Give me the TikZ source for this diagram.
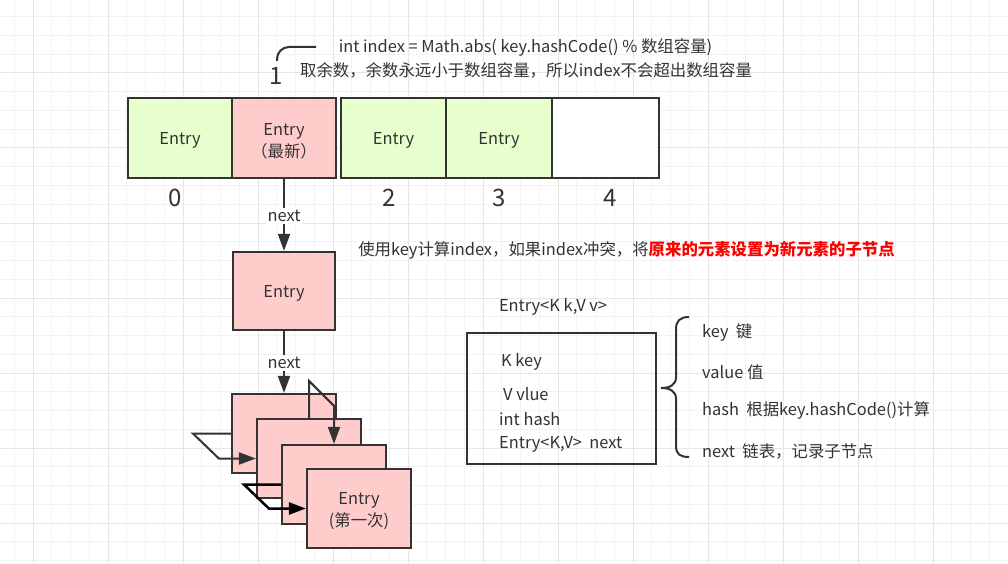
\documentclass[tikz,border=0pt]{standalone}
\usepackage{fontspec}
\setmainfont{Noto Sans CJK SC}
\usepackage{xcolor}
\usetikzlibrary{arrows.meta}

\definecolor{entrygreen}{HTML}{E6FFCC}
\definecolor{entrypink}{HTML}{FFCCCC}
\definecolor{linegray}{HTML}{333333}
\definecolor{txtgray}{HTML}{333333}
\definecolor{gridlight}{HTML}{F3F3F3}
\definecolor{griddark}{HTML}{E6E6E6}

\tikzset{
  cell/.style={draw=linegray, line width=2.2pt, minimum width=104pt, minimum height=80pt,
    inner sep=0pt, text=txtgray, align=center, text height=17pt, font=\fontsize{16.4}{22}\selectfont},
  twolines/.style={text height=40pt},
  entrybox/.style={cell, fill=entrypink},
  link/.style={draw=linegray, line width=2pt, -{Triangle[length=17pt,width=12pt]}},
  lbl/.style={text=txtgray, inner sep=0pt, font=\fontsize{16.4}{20}\selectfont},
  idx/.style={text=txtgray, inner sep=0pt, font=\fontsize{24}{28}\selectfont},
  gridminor/.style={draw=gridlight, line width=1pt},
  gridmajor/.style={draw=griddark, line width=1pt}
}

\begin{document}
\begin{tikzpicture}[x=1pt,y=-1pt]
\useasboundingbox[fill=white] (0,0) rectangle (1008,564);
\foreach \i in {0,...,53} \draw[gridminor] ({14.25+18.75*\i},0) -- ++(0,564);
\foreach \i in {0,...,30} \draw[gridminor] (0,{-2+18.75*\i}) -- ++(1008,0);
\foreach \i in {0,...,13} \draw[gridmajor] ({33+75*\i},0) -- ++(0,564);
\foreach \i in {0,...,7} \draw[gridmajor] (0,{-2+75*\i}) -- ++(1008,0);

\node[lbl] (formula) at (525.5,47) {int index = Math.abs( key.hashCode() \% 数组容量)};
\node[lbl] (remark) at (526,70) {取余数，余数永远小于数组容量，所以index不会超出数组容量};
\draw[linegray, line width=2pt, rounded corners=12pt] (277,61) |- (316,47);
\node[idx] (i1) at (276,76) {1};

\node[cell, fill=entrygreen] (c0) at (180,138) {Entry};
\node[cell, twolines, fill=entrypink] (c1) at (284,138) {Entry\\（最新）};
\node[cell, fill=entrygreen, minimum width=105pt] (c2) at (393.5,138) {Entry};
\node[cell, fill=entrygreen, minimum width=106pt] (c3) at (499,138) {Entry};
\node[cell, fill=white, minimum width=107pt] (c4) at (605.5,138) {};
\node[idx] (i0) at (175,198) {0};
\node[idx] (i2) at (389,198) {2};
\node[idx] (i3) at (499,198) {3};
\node[idx] (i4) at (610,198) {4};

\node[entrybox, minimum width=102pt, minimum height=78pt] (e1) at (284,291) {Entry};
\draw[link] (c1) -- node[lbl, fill=white, inner sep=2pt, yshift=-1pt] {next} (e1);

\node[entrybox, minimum height=79pt] (ea) at (284,433.5) {};
\node[entrybox, minimum height=79pt] (eb) at (309,458.5) {};
\node[entrybox, minimum height=79pt] (ec) at (334,484.5) {};
\node[entrybox, twolines, minimum height=79pt] (ed) at (359,508.5) {Entry\\(第一次)};
\draw[link] (e1) -- node[lbl, fill=white, inner sep=2pt, yshift=-1pt] {next} (ea);
\draw[link] (ea.west) -- ++(-38,0) -- ++(26,25) -- (eb.west);
\draw[link] (eb.north) -- ++(0,-37) -- ++(25,25) -- (ec.north);
\draw[link, draw=black, line width=2.5pt] (ec.west) -- ++(-37,0) -- ++(25,24) -- (ed.west);

\node[lbl] (note) at (626.5,250) {使用key计算index，如果index冲突，将\textcolor{red}{\bfseries 原来的元素设置为新元素的子节点}};

\node[lbl] (title) at (553,307) {Entry<K k,V v>};
\node[draw=linegray, line width=2.2pt, minimum width=189pt, minimum height=131pt] (fields) at (561.5,398.5) {};
\node[lbl, anchor=west] (fk) at (501,362) {K key};
\node[lbl, anchor=west] (fv) at (503,394) {V vlue};
\node[lbl, anchor=west] (fh) at (499,419) {int hash};
\node[lbl, anchor=west] (fn) at (499,444) {Entry<K,V>~~next};

\draw[linegray, line width=2pt] (689,317) .. controls (680,317) and (676,321) .. (676,329)
  -- (676,377) .. controls (676,385) and (670,388) .. (661,388)
  .. controls (670,388) and (676,391) .. (676,399)
  -- (676,446) .. controls (676,454) and (680,457) .. (689,457);
\node[lbl, anchor=west] (dk) at (702,333) {key~~键};
\node[lbl, anchor=west] (dv) at (702,372) {value 值};
\node[lbl, anchor=west] (dh) at (702,410) {hash~~根据key.hashCode()计算};
\node[lbl, anchor=west] (dn) at (702,451) {next~~链表，记录子节点};
\end{tikzpicture}
\end{document}
